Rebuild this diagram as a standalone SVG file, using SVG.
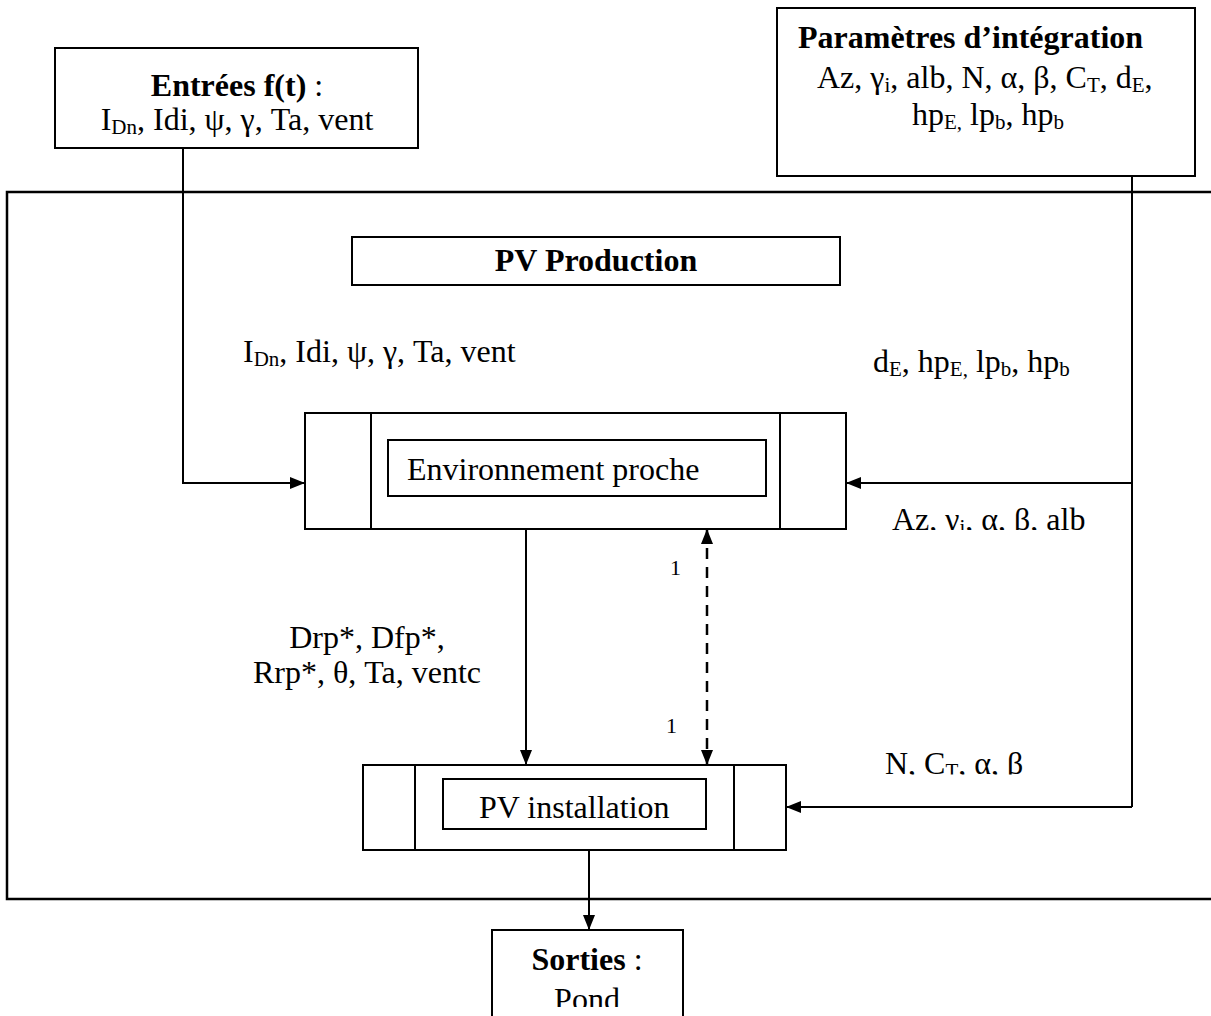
<svg xmlns="http://www.w3.org/2000/svg" width="1211" height="1016" viewBox="0 0 1211 1016">
<defs>
<style>
text{font-family:"Liberation Serif","Times New Roman",serif;font-size:32px;fill:#000}
.b{font-weight:bold}
.n{font-weight:normal}
.sm{font-size:21px}
.one{font-size:22px}
.box{fill:#fff;stroke:#000;stroke-width:2}
.ln{fill:none;stroke:#000;stroke-width:2}
.dash{fill:none;stroke:#000;stroke-width:2.5;stroke-dasharray:11,8}
</style>
<marker id="ah" viewBox="0 0 15 12" refX="15" refY="6" markerWidth="15" markerHeight="12" markerUnits="userSpaceOnUse" orient="auto-start-reverse">
<path d="M0,0 L15,6 L0,12 Z" fill="#000"/>
</marker>
<clipPath id="clipAz"><rect x="880" y="490" width="240" height="40"/></clipPath>
<clipPath id="clipN"><rect x="870" y="730" width="240" height="44.5"/></clipPath>
<clipPath id="clipS"><rect x="493" y="931" width="189" height="76"/></clipPath>
</defs>

<g id="outer">
<path d="M1215,192 H7 V899 H1215" fill="none" stroke="#000" stroke-width="2.5"/>
</g>

<g id="entrees">
<rect class="box" x="55" y="48" width="363" height="100"/>
<text x="237" y="96" text-anchor="middle"><tspan class="b">Entrées f(t)</tspan> :</text>
<text x="237" y="130" text-anchor="middle">I<tspan class="sm" dy="4">Dn</tspan><tspan dy="-4">, Idi, ψ, γ, Ta, vent</tspan></text>
</g>

<g id="parametres">
<rect class="box" x="777" y="8" width="418" height="168"/>
<text x="798" y="48" class="b">Paramètres d’intégration</text>
<text x="817" y="88">Az, γ<tspan class="sm" dy="4">i</tspan><tspan dy="-4">, alb, N, α, β, C</tspan><tspan class="sm" dy="4">T</tspan><tspan dy="-4">, d</tspan><tspan class="sm" dy="4">E</tspan><tspan dy="-4">,</tspan></text>
<text x="912" y="125">hp<tspan class="sm" dy="4">E,</tspan><tspan dy="-4"> lp</tspan><tspan class="sm" dy="4">b</tspan><tspan dy="-4">, hp</tspan><tspan class="sm" dy="4">b</tspan></text>
</g>

<g id="pvproduction">
<rect class="box" x="352" y="237" width="488" height="48"/>
<text x="596" y="271" text-anchor="middle" class="b">PV Production</text>
</g>

<g id="environnement">
<rect class="box" x="305" y="413" width="541" height="116"/>
<line class="ln" x1="371" y1="413" x2="371" y2="529"/>
<line class="ln" x1="780" y1="413" x2="780" y2="529"/>
<rect class="box" x="388" y="440" width="378" height="56"/>
<text x="407" y="480">Environnement proche</text>
</g>

<g id="pvinstallation">
<rect class="box" x="363" y="765" width="423" height="85"/>
<line class="ln" x1="415" y1="765" x2="415" y2="850"/>
<line class="ln" x1="734" y1="765" x2="734" y2="850"/>
<rect class="box" x="443" y="779" width="263" height="50"/>
<text x="479" y="818">PV installation</text>
</g>

<g id="sorties">
<path d="M492,1020 V930 H683 V1020" class="box"/>
<text x="587" y="970" text-anchor="middle"><tspan class="b">Sorties</tspan> :</text>
<text x="587" y="1010" text-anchor="middle" clip-path="url(#clipS)">Pond</text>
</g>

<g id="connectors">
<path class="ln" d="M183,148 V483 H305" marker-end="url(#ah)"/>
<line class="ln" x1="1132" y1="176" x2="1132" y2="807"/>
<line class="ln" x1="1132" y1="483" x2="846" y2="483" marker-end="url(#ah)"/>
<line class="ln" x1="1132" y1="807" x2="786" y2="807" marker-end="url(#ah)"/>
<line class="ln" x1="526" y1="529" x2="526" y2="765" marker-end="url(#ah)"/>
<line class="dash" x1="707" y1="529" x2="707" y2="765" marker-start="url(#ah)" marker-end="url(#ah)"/>
<line class="ln" x1="589" y1="850" x2="589" y2="930" marker-end="url(#ah)"/>
</g>

<g id="labels">
<text x="243" y="362">I<tspan class="sm" dy="4">Dn</tspan><tspan dy="-4">, Idi, ψ, γ, Ta, vent</tspan></text>
<text x="873" y="372">d<tspan class="sm" dy="4">E</tspan><tspan dy="-4">, hp</tspan><tspan class="sm" dy="4">E,</tspan><tspan dy="-4"> lp</tspan><tspan class="sm" dy="4">b</tspan><tspan dy="-4">, hp</tspan><tspan class="sm" dy="4">b</tspan></text>
<text x="892" y="530" clip-path="url(#clipAz)">Az, γ<tspan class="sm" dy="4">i</tspan><tspan dy="-4">, α, β, alb</tspan></text>
<text x="367" y="648" text-anchor="middle">Drp*, Dfp*,</text>
<text x="367" y="683" text-anchor="middle">Rrp*, θ, Ta, ventc</text>
<text x="670" y="575" class="one">1</text>
<text x="666" y="733" class="one">1</text>
<text x="885" y="774" clip-path="url(#clipN)">N, C<tspan class="sm" dy="4">T</tspan><tspan dy="-4">, α, β</tspan></text>
</g>
</svg>
